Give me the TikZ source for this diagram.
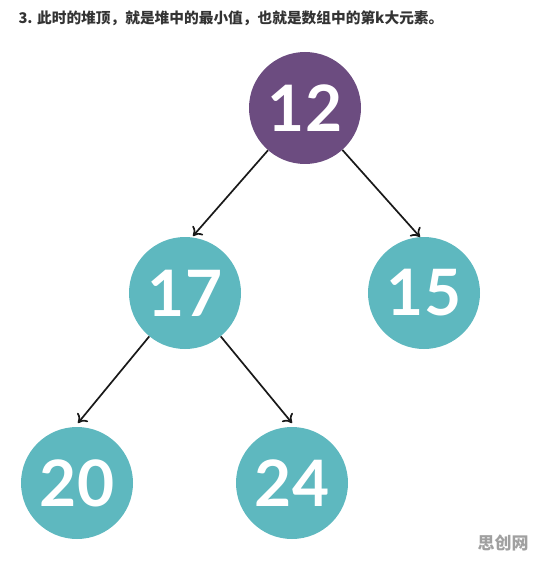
\documentclass[tikz,border=0pt]{standalone}
\usepackage{fontspec}
\setmainfont{Lato}
\newfontfamily\cjk{Noto Sans CJK SC}
\usetikzlibrary{arrows.meta}
\definecolor{heappurple}{HTML}{6C4C80}
\definecolor{heapteal}{HTML}{5EB8BF}
\definecolor{titlegray}{HTML}{333333}
\definecolor{markgray}{HTML}{A0A0A0}
\begin{document}
\begin{tikzpicture}[x=1pt,y=-1pt,
  heapnode/.style={circle,minimum size=112pt,inner sep=0pt,text=white,
    font=\fontsize{64}{64}\selectfont\bfseries},
  purplenode/.style={heapnode,fill=heappurple},
  tealnode/.style={heapnode,fill=heapteal},
  edgearrow/.style={draw=black!90,line width=1.7pt,-{To[length=8pt,width=14pt,line width=1.7pt]}}
]
\useasboundingbox (0,0) rectangle (544,564);
\node[anchor=west,text=titlegray,font=\cjk\bfseries\fontsize{14.7}{16}\selectfont] (title) at (15,18) {3. 此时的堆顶，就是堆中的最小值，也就是数组中的第k大元素。};
\node[purplenode] (n12) at (305,108) {12};
\node[tealnode] (n17) at (185,293) {17};
\node[tealnode] (n15) at (424,293) {15};
\node[tealnode] (n20) at (77,483) {20};
\node[tealnode] (n24) at (292,483) {24};
\coordinate (t17) at (193,236);
\coordinate (t15) at (420,237);
\coordinate (t20) at (78,423);
\coordinate (t24) at (292,423);
\draw[edgearrow] (n12) -- (t17);
\draw[edgearrow] (n12) -- (t15);
\draw[edgearrow] (n17) -- (t20);
\draw[edgearrow] (n17) -- (t24);
\node[text=markgray,font=\cjk\bfseries\fontsize{17}{17}\selectfont] (mark) at (503,543) {思创网};
\end{tikzpicture}
\end{document}
